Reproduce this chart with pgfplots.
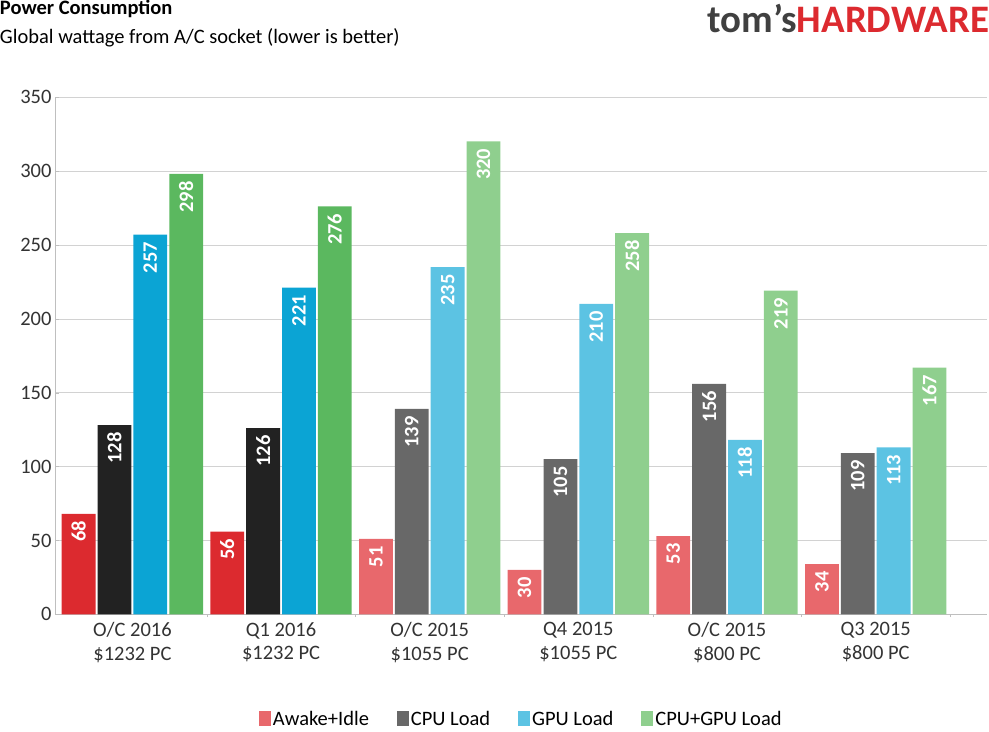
\documentclass[border=0pt]{standalone}
\usepackage{pgfplots}
\pgfplotsset{compat=1.18}
\usepackage{fontspec}
\setmainfont{Carlito}
\definecolor{rS}{HTML}{DC2A2F}\definecolor{rL}{HTML}{E8686C}
\definecolor{kS}{HTML}{222222}\definecolor{kL}{HTML}{686868}
\definecolor{bS}{HTML}{0BA4D4}\definecolor{bL}{HTML}{5CC3E3}
\definecolor{gS}{HTML}{5BB85F}\definecolor{gL}{HTML}{8FCF8E}
\begin{document}
\begin{tikzpicture}
\begin{axis}[
  scale only axis, width=910pt, height=505pt,
  xmin=-0.52, xmax=5.75, ymin=0, ymax=350,
  ytick={0,50,...,350}, ymajorgrids, grid style={gray!35},
  xtick={0,...,5}, major x tick style={draw=none},
  minor xtick={0.5,1.5,2.5,3.5,4.5,5.5},
  xticklabels={O/C 2016\\\$1232 PC, Q1 2016\\\$1232 PC, O/C 2015\\\$1055 PC, Q4 2015\\\$1055 PC, O/C 2015\\\$800 PC, Q3 2015\\\$800 PC},
  xticklabel style={align=center, font=\fontsize{20}{23}\selectfont, text=black!80},
  yticklabel style={font=\fontsize{20}{23}\selectfont, text=black!80},
  /pgf/number format/assume math mode=true,
  axis line style={gray!50}, axis y line*=left, axis x line*=bottom,
  tick style={gray!50}, ybar, bar width=33pt,
  every axis plot/.append style={draw=none},
  nodes near coords,
  nodes near coords style={rotate=90, anchor=east, inner sep=7pt, text=white, font=\fontsize{20}{23}\selectfont\bfseries},
  legend style={at={(0.5,-0.18)}, anchor=north, draw=none, legend columns=4, font=\fontsize{20}{23}\selectfont, /tikz/every even column/.append style={column sep=25pt}},
  legend image code/.code={\fill[#1] (0pt,-6pt) rectangle (12pt,8pt);},
]
\addplot[fill=rS, bar shift=-52.5pt, forget plot] coordinates {(0,68) (1,56)};
\addplot[fill=rL, bar shift=-52.5pt] coordinates {(2,51) (3,30) (4,53) (5,34)};
\addlegendentry{Awake+Idle}
\addplot[fill=kS, bar shift=-17.5pt, forget plot] coordinates {(0,128) (1,126)};
\addplot[fill=kL, bar shift=-17.5pt] coordinates {(2,139) (3,105) (4,156) (5,109)};
\addlegendentry{CPU Load}
\addplot[fill=bS, bar shift=17.5pt, forget plot] coordinates {(0,257) (1,221)};
\addplot[fill=bL, bar shift=17.5pt] coordinates {(2,235) (3,210) (4,118) (5,113)};
\addlegendentry{GPU Load}
\addplot[fill=gS, bar shift=52.5pt, forget plot] coordinates {(0,298) (1,276)};
\addplot[fill=gL, bar shift=52.5pt] coordinates {(2,320) (3,258) (4,219) (5,167)};
\addlegendentry{CPU+GPU Load}
\end{axis}
\node[anchor=north west, align=left, inner sep=0pt, font=\fontsize{20}{24}\selectfont] at (-54pt,600pt)
 {\textbf{Power Consumption}\\[4pt]Global wattage from A/C socket (lower is better)};
\node[anchor=north east, inner sep=0pt, font=\fontsize{38}{40}\selectfont\bfseries] at (912pt,596pt)
 {\textcolor{black!75}{tom's}\textcolor{rS}{HARDWARE}};
\end{tikzpicture}
\end{document}
